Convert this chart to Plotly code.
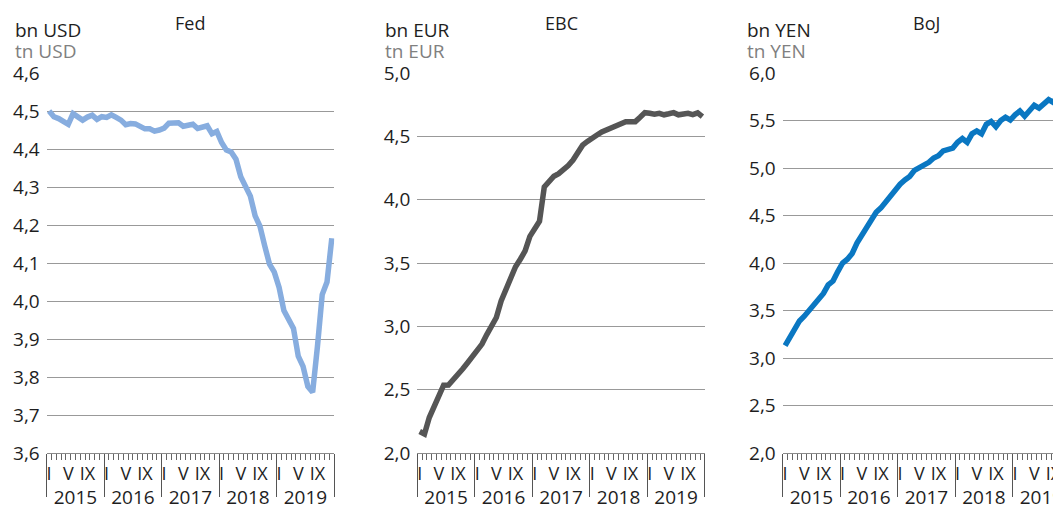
import plotly.graph_objects as go

# ---------------- data (monthly, Jan 2015 - Dec 2019) ----------------
years = ["2015", "2016", "2017", "2018", "2019"]
month_labels = ["I", "V", "IX"]

fed = [4.50, 4.485, 4.48, 4.472, 4.465, 4.493, 4.483, 4.476, 4.484, 4.489, 4.478, 4.485,
       4.483, 4.49, 4.483, 4.476, 4.464, 4.467, 4.466, 4.459, 4.453, 4.453, 4.447, 4.45,
       4.455, 4.468, 4.47, 4.469, 4.46, 4.463, 4.465, 4.454, 4.457, 4.461, 4.44, 4.446,
       4.417, 4.397, 4.392, 4.373, 4.327, 4.303, 4.276, 4.224, 4.197, 4.145, 4.097, 4.076,
       4.036, 3.975, 3.953, 3.928, 3.855, 3.828, 3.775, 3.76, 3.88, 4.017, 4.05, 4.165]

ebc = [2.17, 2.15, 2.28, 2.37, 2.46, 2.535, 2.537, 2.575, 2.62, 2.665, 2.713, 2.76,
       2.81, 2.86, 2.935, 3.01, 3.07, 3.20, 3.30, 3.38, 3.47, 3.53, 3.595, 3.71,
       3.77, 3.83, 4.10, 4.15, 4.185, 4.205, 4.235, 4.27, 4.313, 4.37, 4.43, 4.46,
       4.49, 4.51, 4.535, 4.55, 4.57, 4.59, 4.60, 4.615, 4.616, 4.616, 4.65, 4.687,
       4.682, 4.675, 4.682, 4.67, 4.678, 4.687, 4.67, 4.675, 4.682, 4.672, 4.685, 4.655]

boj = [3.13, 3.215, 3.30, 3.39, 3.44, 3.50, 3.58, 3.63, 3.68, 3.77, 3.81, 3.91,
       4.00, 4.04, 4.10, 4.21, 4.29, 4.37, 4.47, 4.535, 4.58, 4.645, 4.72, 4.77,
       4.83, 4.875, 4.91, 4.975, 5.005, 5.02, 5.06, 5.105, 5.13, 5.18, 5.195, 5.21,
       5.27, 5.31, 5.27, 5.36, 5.39, 5.36, 5.46, 5.49, 5.435, 5.50, 5.535, 5.505,
       5.56, 5.60, 5.545, 5.61, 5.66, 5.63, 5.68, 5.72, 5.69, 5.76, 5.79]

titles = ["Fed", "EBC", "BoJ"]
units_bn = ["bn USD", "bn EUR", "bn YEN"]
units_tn = ["tn USD", "tn EUR", "tn YEN"]

# ---------------- layout helpers ----------------
# the page body has an 8px default margin, so the figure is placed 8px in
OX, OY = 8, 8
W, H = 1061 - OX, 507 - OY
FONT = "Open Sans"
def fx(p): return (p - OX) / W
def fy(p): return 1 - (p - OY) / H

MONTH_W = 287.5 / 60.0
lefts = [46.7, 417.3, 782.7]
rights = [334.3, 705.0, 1061.0]
top_px, bot_px = 73, 453
yranges = [[3.6, 4.6], [2.0, 5.0], [2.0, 6.0]]
ydticks = [0.1, 0.5, 0.5]
colors = ["#87addf", "#555555", "#0a77c2"]
series = [fed, ebc, boj]

fig = go.Figure()
layout = dict(
    width=W, height=H, margin=dict(l=0, r=0, t=0, b=0, autoexpand=False),
    paper_bgcolor="white", plot_bgcolor="white",
    separators=", ", showlegend=False,
    font=dict(family=FONT, size=19, color="#1e1e1e"),
)

month_pos = []
month_txt = []
for y in range(5):
    for m, lab in zip([0, 4, 8], month_labels):
        month_pos.append(12 * y + m + 0.5)
        month_txt.append(lab)
year_pos = [12 * y + 6 for y in range(5)]
year_edges = [12 * y for y in range(6)]

annotations = []
overlay_ids = []
for k in range(3):
    n = "" if k == 0 else str(k + 1)
    xr_end = (rights[k] - lefts[k]) / MONTH_W
    dom = [fx(lefts[k]), min(1.0, fx(rights[k]))]
    common = dict(range=[0, xr_end], automargin=False, showgrid=False, zeroline=False)
    # main axis: month ruler ticks
    layout["xaxis" + n] = dict(
        domain=dom, anchor="y" + n, **common,
        showline=True, linecolor="#8a8a8a", linewidth=1.3,
        tickmode="array", tickvals=list(range(61)), showticklabels=False,
        ticks="outside", ticklen=6, tickwidth=1, tickcolor="#666666",
    )
    layout["yaxis" + n] = dict(
        domain=[fy(bot_px), fy(top_px)], range=yranges[k], anchor="x" + n, automargin=False,
        tickmode="linear", tick0=yranges[k][0], dtick=ydticks[k], tickformat=".1f",
        showgrid=True, gridcolor="#999999", gridwidth=1.3, zeroline=False, showline=False,
        ticks="", ticklabelstandoff=6, tickfont=dict(size=19, color="#1e1e1e"),
    )
    # year separators
    a_sep, a_mon, a_yr = 4 + k, 7 + k, 10 + k
    layout["xaxis" + str(a_sep)] = dict(
        overlaying="x" + n, anchor="y" + n, side="bottom", **common,
        tickmode="array", tickvals=year_edges, showticklabels=False, showline=False,
        ticks="outside", ticklen=43, tickwidth=1.3, tickcolor="#555555",
    )
    # month labels
    layout["xaxis" + str(a_mon)] = dict(
        overlaying="x" + n, anchor="y" + n, side="bottom", **common,
        tickmode="array", tickvals=month_pos, ticktext=month_txt, ticks="", showline=False,
        ticklabelstandoff=8, ticklabeloverflow="allow",
        tickfont=dict(size=18, color="#1e1e1e"),
    )
    # year labels
    layout["xaxis" + str(a_yr)] = dict(
        overlaying="x" + n, anchor="y" + n, side="bottom", **common,
        tickmode="array", tickvals=year_pos, ticktext=years, ticks="", showline=False,
        ticklabelstandoff=31, ticklabeloverflow="allow",
        tickfont=dict(size=19, color="#1e1e1e"),
    )
    overlay_ids.append((n, [a_sep, a_mon, a_yr]))
    fig.add_trace(go.Scatter(
        x=[i + 0.5 for i in range(len(series[k]))], y=series[k],
        mode="lines", line=dict(color=colors[k], width=5.5),
        xaxis="x" + n, yaxis="y" + n, hoverinfo="skip",
    ))
    # titles and units
    center = lefts[k] + 287.5 / 2
    annotations.append(dict(text=titles[k], x=fx(center), y=fy(23), xref="paper", yref="paper",
                            showarrow=False, xanchor="center", yanchor="middle",
                            font=dict(size=18, color="#1e1e1e")))
    ux = [12.5, 383.0, 745.0][k]
    annotations.append(dict(text=units_bn[k], x=fx(ux), y=fy(30), xref="paper", yref="paper",
                            showarrow=False, xanchor="left", yanchor="middle",
                            font=dict(size=19, color="#1e1e1e")))
    annotations.append(dict(text=units_tn[k], x=fx(ux), y=fy(51), xref="paper", yref="paper",
                            showarrow=False, xanchor="left", yanchor="middle",
                            font=dict(size=19, color="#808080")))

layout["annotations"] = annotations
fig.update_layout(**layout)
# invisible traces so the overlaid axes render
for n, ids in overlay_ids:
    for a in ids:
        fig.add_trace(go.Scatter(x=[None], y=[None], xaxis="x" + str(a), yaxis="y" + n,
                                 mode="lines", hoverinfo="skip", showlegend=False))

fig.write_html("out.html")
